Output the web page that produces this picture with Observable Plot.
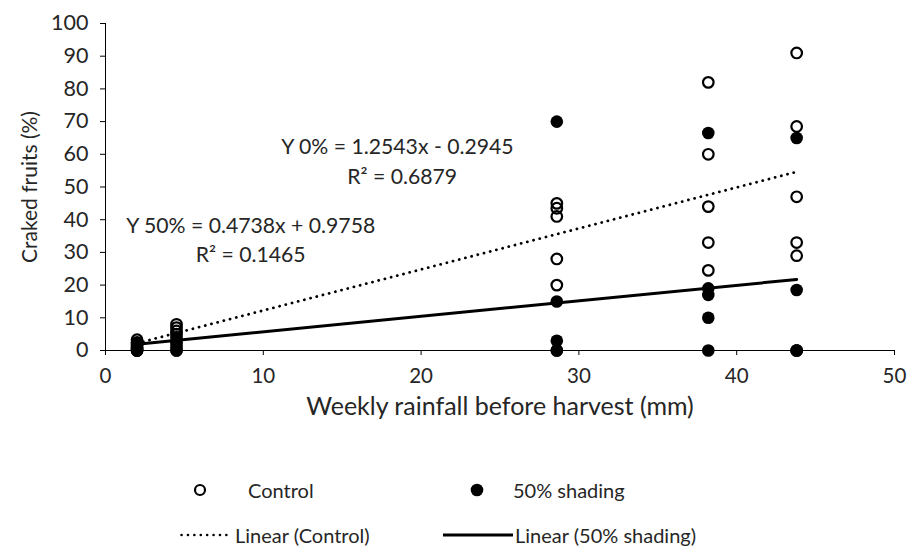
<!DOCTYPE html>
<html>
<head>
<meta charset="utf-8">
<script src="https://cdn.jsdelivr.net/npm/d3@7"></script>
<script src="https://cdn.jsdelivr.net/npm/@observablehq/plot@0.6"></script>
<style>
  html, body { margin: 0; padding: 0; background: #fff; }
  #wrap { position: relative; width: 907px; height: 547px; overflow: hidden; font-family: Lato, "Open Sans", sans-serif; color: #262626; }
  #legend { position: absolute; left: 0; top: 440px; width: 907px; height: 107px; font-size: 20px; }
  .li { position: absolute; display: flex; align-items: center; white-space: nowrap; }
</style>
</head>
<body>
<div id="wrap">
  <div id="chart"></div>
  <div id="legend"></div>
</div>
<script>
// ---- data ----
const rainfallMm = [2, 4.5, 28.6, 38.2, 43.8];
const controlPct = [
  [3.3, 2, 1.5, 0.5, 0],
  [8, 7, 6, 5, 3],
  [45, 43.5, 41, 28, 20],
  [82, 60, 44, 33, 24.5],
  [91, 68.5, 47, 33, 29]
];
const shadingPct = [
  [2.5, 1, 0.5, 0, 0],
  [4, 2, 1, 0, 0],
  [70, 15, 3, 0, 0],
  [66.5, 19, 17, 10, 0],
  [65, 18.5, 0, 0, 0]
];
const seriesNames = ["Control", "50% shading"];
const trendSlopes = [1.2543, 0.4738];
const trendIntercepts = [-0.2945, 0.9758];
const annotationLines = ["Y 0% = 1.2543x - 0.2945", "R² = 0.6879", "Y 50% = 0.4738x + 0.9758", "R² = 0.1465"];
const annotationX = [18.5, 18.8, 9.2, 9.2];
const annotationY = [62.1, 52.9, 37.9, 29.0];
const xTicks = [0, 10, 20, 30, 40, 50];
const yTicks = [0, 10, 20, 30, 40, 50, 60, 70, 80, 90, 100];
const xLabel = "Weekly rainfall before harvest (mm)";
const yLabel = "Craked fruits (%)";
const legendLabels = ["Control", "50% shading", "Linear (Control)", "Linear (50% shading)"];

// ---- build tables ----
const points = [];
[controlPct, shadingPct].forEach((arr, s) => {
  arr.forEach((vals, i) => vals.forEach(v => points.push({x: rainfallMm[i], y: v, s: seriesNames[s]})));
});
const xMin = d3.min(rainfallMm), xMax = d3.max(rainfallMm);
const trends = [];
trendSlopes.forEach((m, s) => {
  [xMin, xMax].forEach(x => trends.push({x, y: m * x + trendIntercepts[s], s: seriesNames[s]}));
});
const notes = annotationLines.map((t, i) => ({t, x: annotationX[i], y: annotationY[i]}));

const ink = "#262626";
const chart = Plot.plot({
  width: 907,
  height: 440,
  marginLeft: 105,
  marginRight: 13,
  marginTop: 23,
  marginBottom: 90,
  style: {fontFamily: "Lato, 'Open Sans', sans-serif", fontSize: "21px", color: ink, background: "white", overflow: "visible"},
  x: {domain: [0, 50], label: null},
  y: {domain: [0, 100], label: null},
  marks: [
    Plot.axisX({ticks: xTicks, tickSize: 5, tickPadding: 13, stroke: "#000", fill: ink, label: null, fontSize: 20.5}),
    Plot.axisY({ticks: yTicks, tickSize: 5, tickPadding: 12, stroke: "#000", fill: ink, label: null, fontSize: 21.5}),
    Plot.ruleY([0], {stroke: "#000", strokeWidth: 1}),
    Plot.ruleX([0], {stroke: "#000", strokeWidth: 1}),
    Plot.line(trends.filter(d => d.s === seriesNames[0]), {x: "x", y: "y", stroke: "#000", strokeWidth: 2.8, strokeDasharray: "0.1,6.3", strokeLinecap: "round"}),
    Plot.line(trends.filter(d => d.s === seriesNames[1]), {x: "x", y: "y", stroke: "#000", strokeWidth: 3}),
    Plot.dot(points.filter(d => d.s === seriesNames[0]), {x: "x", y: "y", r: 5.3, stroke: "#000", strokeWidth: 2.2, fill: "none"}),
    Plot.dot(points.filter(d => d.s === seriesNames[1]), {x: "x", y: "y", r: 6.3, fill: "#000", stroke: "none"}),
    Plot.text(notes, {x: "x", y: "y", text: "t", fill: ink, fontSize: 21.2, textAnchor: "middle"}),
    Plot.text([xLabel], {text: d => d, frameAnchor: "bottom", textAnchor: "middle", dy: 64, fill: ink, fontSize: 25}),
    Plot.text([yLabel], {text: d => d, frameAnchor: "left", textAnchor: "middle", dx: -75, rotate: -90, fill: ink, fontSize: 21})
  ]
});
document.getElementById("chart").appendChild(chart);

// ---- legend (HTML below the SVG) ----
const legend = document.getElementById("legend");
const items = [
  {label: legendLabels[0], left: 193, top: 50, sym: `<svg width="55" height="20"><circle cx="7" cy="10" r="5" fill="none" stroke="#000" stroke-width="2.2"/></svg>`},
  {label: legendLabels[1], left: 470, top: 50, sym: `<svg width="43" height="20"><circle cx="7" cy="10" r="6.3" fill="#000"/></svg>`},
  {label: legendLabels[2], left: 180, top: 95, sym: `<svg width="55" height="20"><line x1="1.5" x2="50" y1="10" y2="10" stroke="#000" stroke-width="2.5" stroke-dasharray="0.1,6.3" stroke-linecap="round"/></svg>`},
  {label: legendLabels[3], left: 443, top: 95, sym: `<svg width="72" height="20"><line x1="0" x2="70" y1="10" y2="10" stroke="#000" stroke-width="3"/></svg>`}
];
items.forEach(it => {
  const div = document.createElement("div");
  div.className = "li";
  div.style.left = it.left + "px";
  div.style.top = (it.top - 12) + "px";
  div.innerHTML = it.sym + `<span>${it.label}</span>`;
  legend.appendChild(div);
});
</script>
</body>
</html>
